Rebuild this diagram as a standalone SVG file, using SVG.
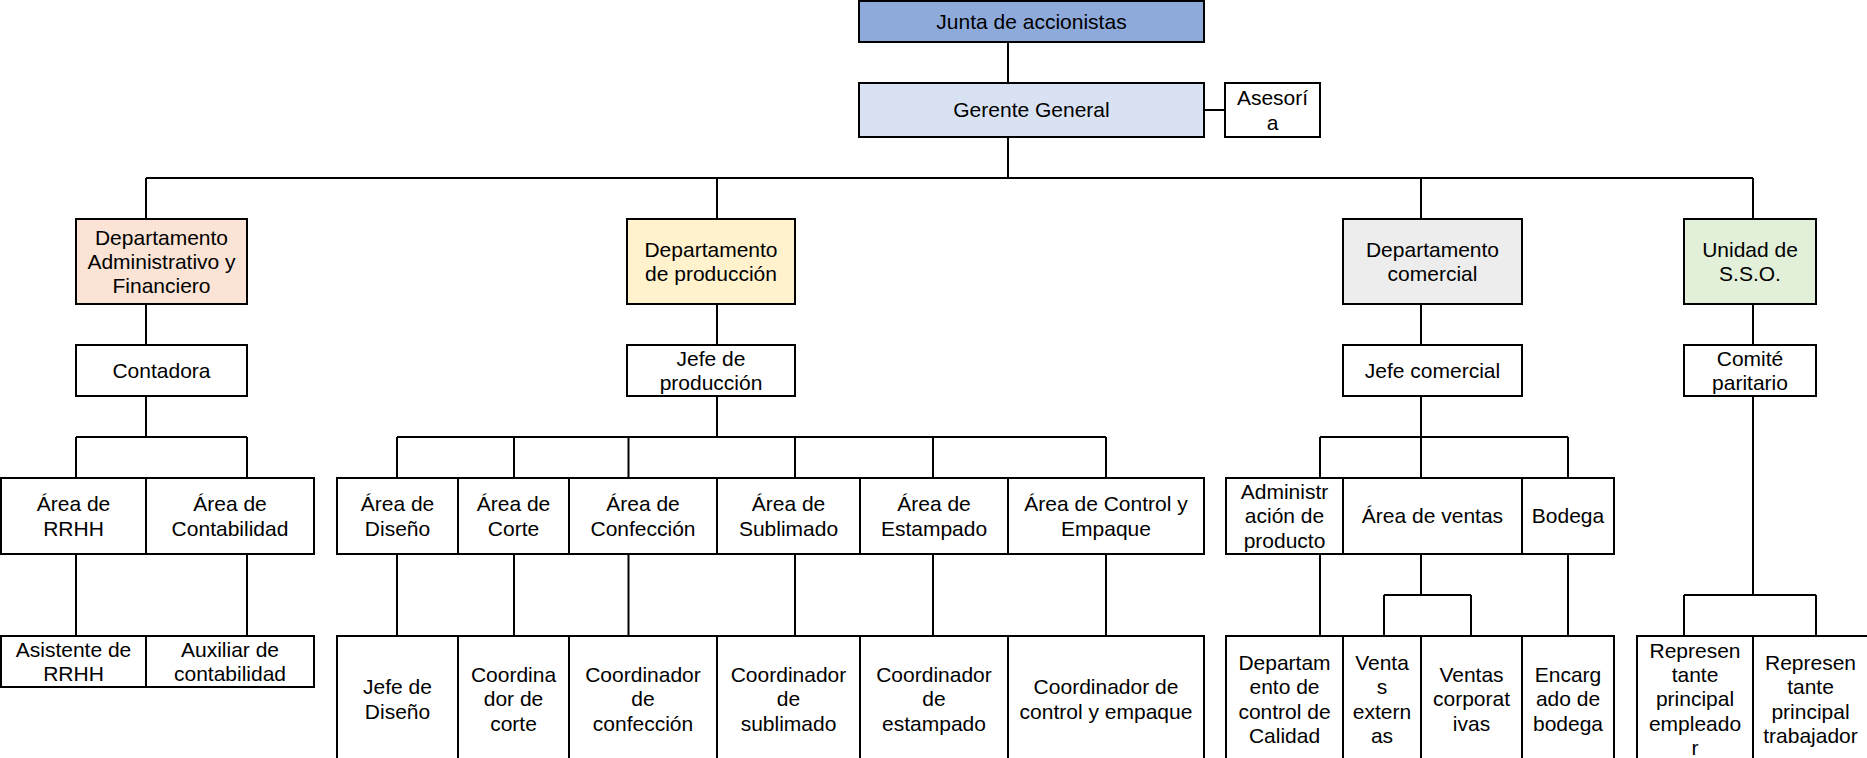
<svg xmlns="http://www.w3.org/2000/svg" width="1867" height="758" viewBox="0 0 1867 758">
<style>
.b{stroke:#000;stroke-width:2;fill:#fff}
.c{stroke:#000;stroke-width:2;fill:none}
text{font-family:"Liberation Sans",Arial,sans-serif;font-size:21px;fill:#000;text-anchor:middle}
</style>
<rect width="1867" height="758" fill="#fff"/>
<g id="connectors">
<path class="c" d="M1008 42V83M1204 110H1225M1008 137V178M146 178H1753M146 178V219M717 178V219M1421 178V219M1753 178V219"/>
<path class="c" d="M146 304V345M717 304V345M1421 304V345M1753 304V345"/>
<path class="c" d="M146 396V437M76 437H247M76 437V478M247 437V478M76 554V636M247 554V636"/>
<path class="c" d="M717 396V437M397 437H1106M397 437V478M514 437V478M628.5 437V478M795 437V478M933 437V478M1106 437V478"/>
<path class="c" d="M397 554V636M514 554V636M628.5 554V636M795 554V636M933 554V636M1106 554V636"/>
<path class="c" d="M1421 396V437M1320 437H1568M1320 437V478M1421 437V478M1568 437V478"/>
<path class="c" d="M1320 554V636M1421 554V595M1384 595H1471M1384 595V636M1471 595V636M1568 554V636"/>
<path class="c" d="M1753 396V595M1684 595H1816M1684 595V636M1816 595V636"/>
</g>
<g id="junta"><rect class="b" x="859" y="1" width="345" height="41" fill="#8EAADB" style="fill:#8EAADB"/><text x="1031.5" y="28.9">Junta de accionistas</text></g>
<g id="gerente"><rect class="b" x="859" y="83" width="345" height="54" style="fill:#D9E2F3"/><text x="1031.5" y="117.4">Gerente General</text></g>
<g id="asesoria"><rect class="b" x="1225" y="83" width="95" height="54"/><text x="1272.5" y="105.2">Asesorí</text><text x="1272.5" y="129.5">a</text></g>
<g id="dep-admin"><rect class="b" x="76" y="219" width="171" height="85" style="fill:#FBE4D5"/><text x="161.5" y="244.6">Departamento</text><text x="161.5" y="268.9">Administrativo y</text><text x="161.5" y="293.2">Financiero</text></g>
<g id="dep-prod"><rect class="b" x="627" y="219" width="168" height="85" style="fill:#FFF2CC"/><text x="711" y="256.8">Departamento</text><text x="711" y="281.1">de producción</text></g>
<g id="dep-com"><rect class="b" x="1343" y="219" width="179" height="85" style="fill:#EDEDED"/><text x="1432.5" y="256.8">Departamento</text><text x="1432.5" y="281.1">comercial</text></g>
<g id="sso"><rect class="b" x="1684" y="219" width="132" height="85" style="fill:#E2EFD9"/><text x="1750" y="256.8">Unidad de</text><text x="1750" y="281.1">S.S.O.</text></g>
<g id="contadora"><rect class="b" x="76" y="345" width="171" height="51"/><text x="161.5" y="377.9">Contadora</text></g>
<g id="jefe-prod"><rect class="b" x="627" y="345" width="168" height="51"/><text x="711" y="365.8">Jefe de</text><text x="711" y="390.1">producción</text></g>
<g id="jefe-com"><rect class="b" x="1343" y="345" width="179" height="51"/><text x="1432.5" y="377.9">Jefe comercial</text></g>
<g id="comite"><rect class="b" x="1684" y="345" width="132" height="51"/><text x="1750" y="365.8">Comité</text><text x="1750" y="390.1">paritario</text></g>
<g id="area-rrhh"><rect class="b" x="1" y="478" width="145" height="76"/><text x="73.5" y="511.3">Área de</text><text x="73.5" y="535.6">RRHH</text></g>
<g id="area-cont"><rect class="b" x="146" y="478" width="168" height="76"/><text x="230" y="511.3">Área de</text><text x="230" y="535.6">Contabilidad</text></g>
<g id="area-dis"><rect class="b" x="337" y="478" width="121" height="76"/><text x="397.5" y="511.3">Área de</text><text x="397.5" y="535.6">Diseño</text></g>
<g id="area-cor"><rect class="b" x="458" y="478" width="111" height="76"/><text x="513.5" y="511.3">Área de</text><text x="513.5" y="535.6">Corte</text></g>
<g id="area-conf"><rect class="b" x="569" y="478" width="148" height="76"/><text x="643" y="511.3">Área de</text><text x="643" y="535.6">Confección</text></g>
<g id="area-sub"><rect class="b" x="717" y="478" width="143" height="76"/><text x="788.5" y="511.3">Área de</text><text x="788.5" y="535.6">Sublimado</text></g>
<g id="area-est"><rect class="b" x="860" y="478" width="148" height="76"/><text x="934" y="511.3">Área de</text><text x="934" y="535.6">Estampado</text></g>
<g id="area-ctrl"><rect class="b" x="1008" y="478" width="196" height="76"/><text x="1106" y="511.3">Área de Control y</text><text x="1106" y="535.6">Empaque</text></g>
<g id="adm-prod"><rect class="b" x="1226" y="478" width="117" height="76"/><text x="1284.5" y="499.1">Administr</text><text x="1284.5" y="523.4">ación de</text><text x="1284.5" y="547.7">producto</text></g>
<g id="area-ventas"><rect class="b" x="1343" y="478" width="179" height="76"/><text x="1432.5" y="523.4">Área de ventas</text></g>
<g id="bodega"><rect class="b" x="1522" y="478" width="92" height="76"/><text x="1568" y="523.4">Bodega</text></g>
<g id="asist-rrhh"><rect class="b" x="1" y="636" width="145" height="51"/><text x="73.5" y="656.8">Asistente de</text><text x="73.5" y="681.1">RRHH</text></g>
<g id="aux-cont"><rect class="b" x="146" y="636" width="168" height="51"/><text x="230" y="656.8">Auxiliar de</text><text x="230" y="681.1">contabilidad</text></g>
<g id="jefe-dis"><rect class="b" x="337" y="636" width="121" height="126"/><text x="397.5" y="694.3">Jefe de</text><text x="397.5" y="718.6">Diseño</text></g>
<g id="coord-cor"><rect class="b" x="458" y="636" width="111" height="126"/><text x="513.5" y="682.1">Coordina</text><text x="513.5" y="706.4">dor de</text><text x="513.5" y="730.7">corte</text></g>
<g id="coord-conf"><rect class="b" x="569" y="636" width="148" height="126"/><text x="643" y="682.1">Coordinador</text><text x="643" y="706.4">de</text><text x="643" y="730.7">confección</text></g>
<g id="coord-sub"><rect class="b" x="717" y="636" width="143" height="126"/><text x="788.5" y="682.1">Coordinador</text><text x="788.5" y="706.4">de</text><text x="788.5" y="730.7">sublimado</text></g>
<g id="coord-est"><rect class="b" x="860" y="636" width="148" height="126"/><text x="934" y="682.1">Coordinador</text><text x="934" y="706.4">de</text><text x="934" y="730.7">estampado</text></g>
<g id="coord-ctrl"><rect class="b" x="1008" y="636" width="196" height="126"/><text x="1106" y="694.3">Coordinador de</text><text x="1106" y="718.6">control y empaque</text></g>
<g id="dep-calidad"><rect class="b" x="1226" y="636" width="117" height="126"/><text x="1284.5" y="670">Departam</text><text x="1284.5" y="694.3">ento de</text><text x="1284.5" y="718.6">control de</text><text x="1284.5" y="742.9">Calidad</text></g>
<g id="ventas-ext"><rect class="b" x="1343" y="636" width="78" height="126"/><text x="1382" y="670">Venta</text><text x="1382" y="694.3">s</text><text x="1382" y="718.6">extern</text><text x="1382" y="742.9">as</text></g>
<g id="ventas-corp"><rect class="b" x="1421" y="636" width="101" height="126"/><text x="1471.5" y="682.1">Ventas</text><text x="1471.5" y="706.4">corporat</text><text x="1471.5" y="730.7">ivas</text></g>
<g id="enc-bodega"><rect class="b" x="1522" y="636" width="92" height="126"/><text x="1568" y="682.1">Encarg</text><text x="1568" y="706.4">ado de</text><text x="1568" y="730.7">bodega</text></g>
<g id="rep-emp"><rect class="b" x="1637" y="636" width="116" height="126"/><text x="1695" y="657.8">Represen</text><text x="1695" y="682.1">tante</text><text x="1695" y="706.4">principal</text><text x="1695" y="730.7">empleado</text><text x="1695" y="755">r</text></g>
<g id="rep-trab"><rect class="b" x="1753" y="636" width="115" height="126"/><text x="1810.5" y="670">Represen</text><text x="1810.5" y="694.3">tante</text><text x="1810.5" y="718.6">principal</text><text x="1810.5" y="742.9">trabajador</text></g>
</svg>
